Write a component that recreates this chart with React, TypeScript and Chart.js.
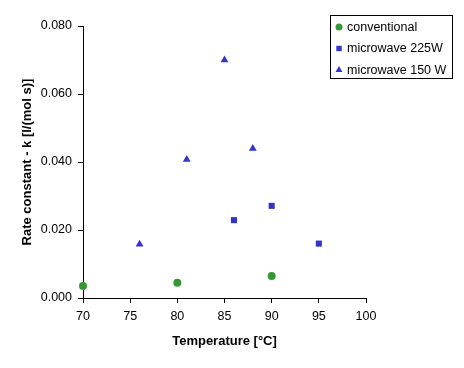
import React, { useEffect, useRef } from "react";
import { Chart, registerables } from "chart.js";
import { drawPoint } from "chart.js/helpers";

Chart.register(...registerables);

const seriesLabels = ["conventional", "microwave 225W", "microwave 150 W"];
const convX = [70, 80, 90];
const convY = [0.0035, 0.0045, 0.0065];
const mw225X = [86, 90, 95];
const mw225Y = [0.0229, 0.0271, 0.016];
const mw150X = [76, 81, 85, 88];
const mw150Y = [0.0158, 0.0407, 0.07, 0.044];

const xTitle = "Temperature [°C]";
const yTitle = "Rate constant - k [l/(mol s)]";

const GREEN = "#339933";
const BLUE = "#3333cc";
const FONT = "'Liberation Sans', Arial, sans-serif";

const toPts = (xs: number[], ys: number[]) => xs.map((x, i) => ({ x, y: ys[i] }));

const legendPlugin = {
  id: "boxLegend",
  afterDraw(chart: any) {
    const ctx = chart.ctx;
    const bx = 330.5, by = 15.5, bw = 122, bh = 63;
    ctx.save();
    ctx.strokeStyle = "#000";
    ctx.lineWidth = 1;
    ctx.strokeRect(bx, by, bw, bh);
    ctx.font = `12.5px ${FONT}`;
    ctx.textBaseline = "middle";
    ctx.textAlign = "left";
    chart.data.datasets.forEach((ds: any, i: number) => {
      const cy = 27 + i * 21.5;
      ctx.fillStyle = ds.backgroundColor;
      ctx.strokeStyle = ds.backgroundColor;
      drawPoint(ctx, { pointStyle: ds.pointStyle, radius: ds.pointRadius - 0.5, borderWidth: 0, rotation: 0 }, 339, cy);
      ctx.fillStyle = "#000";
      ctx.fillText(ds.label, 347, cy + 0.5);
    });
    ctx.restore();
  },
};

export default function App() {
  const ref = useRef<HTMLCanvasElement>(null);
  useEffect(() => {
    if (!ref.current) return;
    const chart = new Chart(ref.current, {
      type: "scatter",
      data: {
        datasets: [
          { label: seriesLabels[0], data: toPts(convX, convY), backgroundColor: GREEN, borderColor: GREEN, borderWidth: 0, pointStyle: "circle", pointRadius: 4, pointHoverRadius: 4, clip: false },
          { label: seriesLabels[1], data: toPts(mw225X, mw225Y), backgroundColor: BLUE, borderColor: BLUE, borderWidth: 0, pointStyle: "rect", pointRadius: 4.3, pointHoverRadius: 4.3, clip: false },
          { label: seriesLabels[2], data: toPts(mw150X, mw150Y), backgroundColor: BLUE, borderColor: BLUE, borderWidth: 0, pointStyle: "triangle", pointRadius: 4.5, pointHoverRadius: 4.5, clip: false },
        ],
      },
      options: {
        responsive: false,
        animation: false,
        layout: { padding: { left: 0, top: 26, right: 98, bottom: 0 } },
        plugins: { legend: { display: false }, tooltip: { enabled: false } },
        scales: {
          x: {
            type: "linear",
            min: 70,
            max: 100,
            afterFit: (s: any) => { s.height = 70; },
            ticks: { stepSize: 5, color: "#000", font: { family: FONT, size: 12.5 }, padding: 6, maxRotation: 0 },
            grid: { drawOnChartArea: false, drawTicks: true, tickLength: 5, color: "#000" },
            border: { color: "#000", width: 1 },
            title: { display: true, text: xTitle, color: "#000", font: { family: FONT, size: 13, weight: "bold" }, padding: { top: 0, bottom: 19 } },
          },
          y: {
            type: "linear",
            min: 0,
            max: 0.08,
            afterFit: (s: any) => { s.width = 83; },
            ticks: { stepSize: 0.02, color: "#000", font: { family: FONT, size: 12.5 }, padding: 6, callback: (v: any) => Number(v).toFixed(3) },
            grid: { drawOnChartArea: false, drawTicks: true, tickLength: 5, color: "#000" },
            border: { color: "#000", width: 1 },
            title: { display: true, text: yTitle, color: "#000", font: { family: FONT, size: 13, weight: "bold" }, padding: { top: 20, bottom: 0 } },
          },
        },
      },
      plugins: [legendPlugin],
    });
    return () => chart.destroy();
  }, []);
  return (
    <canvas
      ref={ref}
      width={464}
      height={368}
      style={{ position: "absolute", left: 0, top: 0, width: 464, height: 368 }}
    />
  );
}
